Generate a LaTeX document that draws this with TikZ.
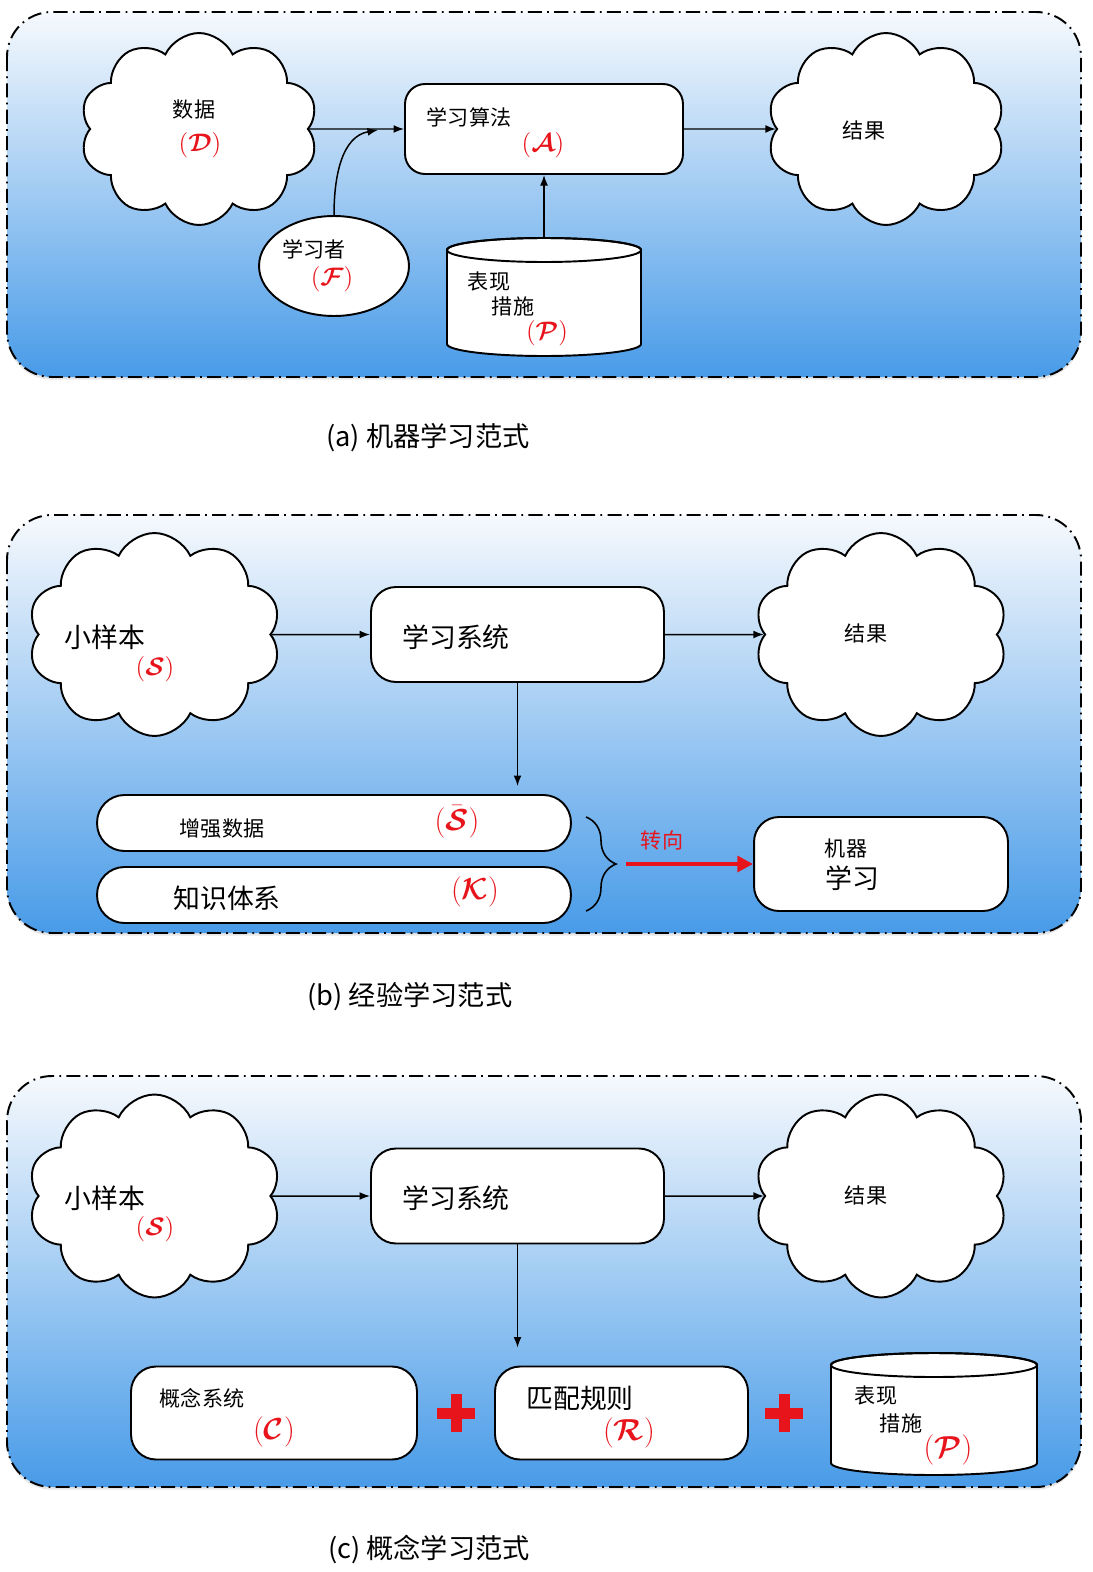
\documentclass[tikz,border=0pt]{standalone}
\usepackage{fontspec}
\setmainfont{Noto Sans CJK SC}
\usepackage{amsmath,amssymb,bm}
\usetikzlibrary{arrows,arrows.meta,shapes.symbols,shapes.geometric,decorations.pathreplacing,shadows}

\definecolor{paneltop}{RGB}{246,249,253}
\definecolor{panelbot}{RGB}{72,155,232}
\definecolor{mred}{RGB}{232,20,28}

% cylinder: centre x, top y, bottom y, x radius
\newcommand{\drum}[4]{%
  \filldraw[fill=white,line width=1.1pt] (#1-#4,#2+12) -- (#1-#4,#3-12) arc (180:0:#4 and 12) -- (#1+#4,#2+12) arc (0:-180:#4 and 12) -- cycle;
  \draw[line width=1.1pt] (#1,#2+12) ellipse (#4 and 12);}

\begin{document}
\begin{tikzpicture}[x=0.02cm,y=-0.02cm,>={Latex[length=6pt,width=4.5pt]},
  panel/.style={draw,line width=1.1pt,dash pattern=on 8pt off 3pt on 1pt off 3pt,rounded corners=0.9cm,top color=paneltop,bottom color=panelbot,drop shadow={opacity=0.2,shadow xshift=0pt,shadow yshift=-1.5pt}},
  puff/.style={cloud,cloud puffs=10,cloud puff arc=130,cloud ignores aspect,draw,fill=white,line width=1.1pt,minimum width=#1},
  puff/.default=5.06cm,
  box/.style={draw,fill=white,line width=1.1pt,rounded corners=#1},
  box/.default=0.4cm,
  sm/.style={font=\fontsize{12}{14}\selectfont},
  lg/.style={font=\fontsize{15.3}{18}\selectfont},
  captxt/.style={font=\fontsize{15.5}{18}\selectfont},
  sym/.style={text=mred,font=\fontsize{14}{16}\selectfont,inner sep=1pt},
  bigsym/.style={text=mred,font=\fontsize{16.5}{18}\selectfont,inner sep=1pt},
  conn/.style={line width=0.85pt},
  redplus/.pic={\fill[mred] (-19,-5.5) rectangle (19,5.5); \fill[mred] (-5.5,-19) rectangle (5.5,19);}]
\useasboundingbox (0,0) rectangle (1092,1572);

% (a)
\draw[panel] (7,12) rectangle (1081,377);
\node[puff=4.76cm,minimum height=3.84cm] (cloudD) at (199,129) {};
\node[puff=4.76cm,minimum height=3.84cm] (resA) at (886,129) {};
\node[box,minimum width=5.56cm,minimum height=1.8cm] (algo) at (544,129) {};
\node[draw,fill=white,ellipse,line width=1.1pt,minimum width=3cm,minimum height=2cm] (lrn) at (334,266) {};
\drum{544}{238}{356}{97}
\coordinate (perfA) at (544,238);
\coordinate (merge) at (378,130);
\node[sm] (tData) at (194,110) {数据};
\node[sym] (sData) at (200,145) {$(\bm{\mathcal{D}})$};
\node[sm] (tAlgo) at (469,117) {学习算法};
\node[sym] (sAlgo) at (543,145) {$(\bm{\mathcal{A}})$};
\node[sm] (tResA) at (864,130) {结果};
\node[sm] (tLrn) at (314,249) {学习者};
\node[sym] (sLrn) at (332,279) {$(\bm{\mathcal{F}})$};
\node[sm] (tPerfA1) at (489,282) {表现};
\node[sm] (tPerfA2) at (513,306) {措施};
\node[sym] (sPerfA) at (547,333) {$(\bm{\mathcal{P}})$};
\path[->,conn]
(cloudD) edge (algo)
(algo) edge (resA)
(perfA) edge (algo)
(lrn) edge[out=90,in=190] (merge);
\node[captxt] (capA) at (428,438) {(a) 机器学习范式};

% (b)
\draw[panel] (7,515) rectangle (1081,933);
\node[puff,minimum height=4.06cm] (smpB) at (154.5,634.5) {};
\node[box=0.5cm,minimum width=5.86cm,minimum height=1.9cm] (sysB) at (517.5,634.5) {};
\node[puff,minimum height=4.06cm] (resB) at (881,634.5) {};
\node[box=0.55cm,minimum width=9.48cm,minimum height=1.12cm] (aug) at (334,823) {};
\node[box=0.55cm,minimum width=9.48cm,minimum height=1.12cm] (know) at (334,895) {};
\node[box=0.5cm,minimum width=5.08cm,minimum height=1.88cm] (mach) at (881,864) {};
\node[lg] (tSmpB) at (105,637) {小样本};
\node[sym] (sSmpB) at (155,669) {$(\bm{\mathcal{S}})$};
\node[lg] (tSysB) at (456,637) {学习系统};
\node[sm] (tResB) at (866,633) {结果};
\node[sm] (tAug) at (222,829) {增强数据};
\node[bigsym] (sAug) at (457,822) {$(\bar{\bm{\mathcal{S}}})$};
\node[lg] (tKnow) at (227,898) {知识体系};
\node[bigsym] (sKnow) at (475,892) {$(\bm{\mathcal{K}})$};
\node[sm] (tMach1) at (846,848) {机器};
\node[lg] (tMach2) at (852,878) {学习};
\node[sm,text=mred] (tTurn) at (662,840) {转向};
\draw[line width=0.9pt,decorate,decoration={brace,amplitude=0.6cm}] (586,817) -- (586,911);
\coordinate (braceTip) at (626,864);
\path[->,conn]
(smpB) edge (sysB)
(sysB) edge (resB)
(sysB) edge[shorten >=0.16cm] (sysB |- aug.north);
\draw[mred,line width=2.4pt,-{Triangle[length=9pt,width=9pt]}] (braceTip) -- (mach);
\node[captxt] (capB) at (410,997) {(b) 经验学习范式};

% (c)
\draw[panel] (7,1076) rectangle (1081,1487);
\node[puff,minimum height=4.06cm] (smpC) at (154.5,1196) {};
\node[box=0.5cm,minimum width=5.86cm,minimum height=1.9cm] (sysC) at (517.5,1196) {};
\node[puff,minimum height=4.06cm] (resC) at (881,1196) {};
\node[box=0.5cm,minimum width=5.72cm,minimum height=1.86cm] (conc) at (274,1413) {};
\node[box=0.5cm,minimum width=5.06cm,minimum height=1.86cm] (match) at (621.5,1413) {};
\drum{934}{1353}{1475}{103}
\pic (plusA) at (456,1413) {redplus};
\pic (plusB) at (784,1413) {redplus};
\node[lg] (tSmpC) at (105,1198) {小样本};
\node[sym] (sSmpC) at (155,1229) {$(\bm{\mathcal{S}})$};
\node[lg] (tSysC) at (456,1198) {学习系统};
\node[sm] (tResC) at (866,1195) {结果};
\node[sm] (tConc) at (202,1398) {概念系统};
\node[bigsym] (sConc) at (274,1432) {$(\bm{\mathcal{C}})$};
\node[lg] (tMatch) at (580,1398) {匹配规则};
\node[bigsym] (sMatch) at (629,1433) {$(\bm{\mathcal{R}})$};
\node[sm] (tPerfC1) at (876,1396) {表现};
\node[sm] (tPerfC2) at (901,1423) {措施};
\node[bigsym] (sPerfC) at (948,1450) {$(\bm{\mathcal{P}})$};
\path[->,conn]
(smpC) edge (sysC)
(sysC) edge (resC)
(sysC) edge[shorten >=0.36cm] (sysC |- match.north);
\node[captxt] (capC) at (429,1549) {(c) 概念学习范式};
\end{tikzpicture}
\end{document}
